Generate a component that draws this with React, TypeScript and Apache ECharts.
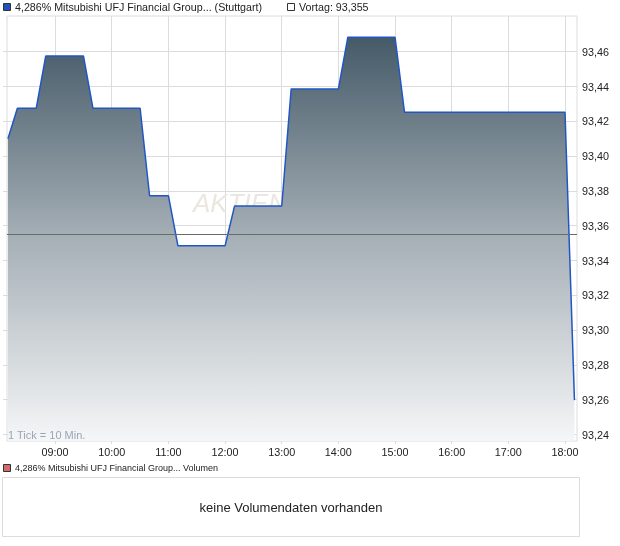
import React, { useEffect, useRef } from "react";
import * as echarts from "echarts";

const times = [
  "08:10", "08:20", "08:30", "08:40", "08:50", "09:00", "09:10", "09:20", "09:30",
  "09:40", "09:50", "10:00", "10:10", "10:20", "10:30",
  "10:40", "10:50", "11:00",
  "11:10", "11:20", "11:30", "11:40", "11:50", "12:00",
  "12:10", "12:20", "12:30", "12:40", "12:50", "13:00",
  "13:10", "13:20", "13:30", "13:40", "13:50", "14:00",
  "14:10", "14:20", "14:30", "14:40", "14:50", "15:00",
  "15:10", "15:20", "15:30", "15:40", "15:50", "16:00", "16:10", "16:20", "16:30",
  "16:40", "16:50", "17:00", "17:10", "17:20", "17:30", "17:40", "17:50", "18:00",
  "18:10",
];

const prices = [
  93.41, 93.4275, 93.4275, 93.4275, 93.4575, 93.4575, 93.4575, 93.4575, 93.4575,
  93.4275, 93.4275, 93.4275, 93.4275, 93.4275, 93.4275,
  93.3772, 93.3772, 93.3772,
  93.3485, 93.3485, 93.3485, 93.3485, 93.3485, 93.3485,
  93.3713, 93.3713, 93.3713, 93.3713, 93.3713, 93.3713,
  93.4386, 93.4386, 93.4386, 93.4386, 93.4386, 93.4386,
  93.4683, 93.4683, 93.4683, 93.4683, 93.4683, 93.4683,
  93.4252, 93.4252, 93.4252, 93.4252, 93.4252, 93.4252, 93.4252, 93.4252, 93.4252,
  93.4252, 93.4252, 93.4252, 93.4252, 93.4252, 93.4252, 93.4252, 93.4252, 93.4252,
  93.2598,
];

const hourLabels = ["09:00", "10:00", "11:00", "12:00", "13:00", "14:00", "15:00", "16:00", "17:00", "18:00"];
const previousClose = 93.355;
const previousCloseLabel = "Vortag: 93,355";
const seriesTitle = "4,286% Mitsubishi UFJ Financial Group... (Stuttgart)";
const volumeTitle = "4,286% Mitsubishi UFJ Financial Group... Volumen";
const noVolumeText = "keine Volumendaten vorhanden";
const tickNote = "1 Tick = 10 Min.";

const FONT = "'Liberation Sans', Arial, sans-serif";
const GRID_COLOR = "#dcdcdc";

const toMin = (t: string) => {
  const [h, m] = t.split(":").map(Number);
  return h * 60 + m;
};

export default function App() {
  const ref = useRef<HTMLDivElement>(null);

  useEffect(() => {
    if (!ref.current) return;
    const chart = echarts.init(ref.current, undefined, { renderer: "svg" });
    const data = times.map((t, i) => [toMin(t), prices[i]]);
    const firstHour = toMin(hourLabels[0]);
    const lastHour = toMin(hourLabels[hourLabels.length - 1]);

    chart.setOption({
      animation: false,
      textStyle: { fontFamily: FONT },
      grid: [
        { left: 7, top: 16, width: 570, height: 425, show: true, borderColor: GRID_COLOR, borderWidth: 1, backgroundColor: "transparent" },
        { left: 7, top: 51.7, width: 570, height: 382.8 },
        { left: 55, top: 16, width: 510, height: 425 },
      ],
      xAxis: [
        { gridIndex: 0, type: "value", min: 489, max: 1092.7, show: false },
        { gridIndex: 1, type: "value", min: 0, max: 1, show: false },
        {
          gridIndex: 2,
          type: "value",
          min: firstHour,
          max: lastHour,
          interval: 60,
          position: "bottom",
          axisLine: { show: false },
          axisTick: { show: true, length: 3, lineStyle: { color: GRID_COLOR } },
          axisLabel: {
            formatter: (v: number) => hourLabels[Math.round((v - firstHour) / 60)] ?? "",
            color: "#222",
            fontSize: 10.8,
            fontFamily: FONT,
            margin: 5,
          },
          splitLine: { show: true, lineStyle: { color: GRID_COLOR, width: 1 } },
        },
      ],
      yAxis: [
        { gridIndex: 0, type: "value", min: 93.2363, max: 93.4805, show: false },
        {
          gridIndex: 1,
          type: "value",
          min: 93.24,
          max: 93.46,
          interval: 0.02,
          position: "right",
          axisLine: { show: false },
          axisTick: { show: true, length: 3, lineStyle: { color: GRID_COLOR } },
          axisLabel: {
            formatter: (v: number) => v.toFixed(2).replace(".", ","),
            color: "#222",
            fontSize: 10.8,
            fontFamily: FONT,
            margin: 5,
          },
          splitLine: { show: true, lineStyle: { color: GRID_COLOR, width: 1 } },
        },
        {
          gridIndex: 1,
          type: "value",
          min: 93.24,
          max: 93.46,
          interval: 0.02,
          position: "left",
          axisLine: { show: false },
          axisTick: { show: true, length: 4, lineStyle: { color: GRID_COLOR } },
          axisLabel: { show: false },
          splitLine: { show: false },
        },
        { gridIndex: 2, type: "value", min: 0, max: 1, show: false },
      ],
      graphic: {
        elements: [
          {
            type: "text",
            z: 1,
            left: 193,
            top: 190,
            style: { text: "AKTIEN", fill: "#ebe6df", font: `italic 26px ${FONT}` },
          },
          {
            type: "text",
            z: 10,
            left: 8,
            top: 429,
            style: { text: tickNote, fill: "#9aa6b8", font: `11px ${FONT}` },
          },
          { type: "rect", z: 10, shape: { x: 3.5, y: 3.5, width: 7, height: 7 }, style: { fill: "#1f52b8", stroke: "#333", lineWidth: 1 } },
          { type: "text", z: 10, left: 15, top: 1, style: { text: seriesTitle, fill: "#222", font: `10.7px ${FONT}` } },
          { type: "rect", z: 10, shape: { x: 287.5, y: 3.5, width: 7, height: 7 }, style: { fill: "#fff", stroke: "#333", lineWidth: 1 } },
          { type: "text", z: 10, left: 299, top: 1, style: { text: previousCloseLabel, fill: "#222", font: `10.7px ${FONT}` } },
          { type: "rect", z: 10, shape: { x: 3.5, y: 464.5, width: 7, height: 7 }, style: { fill: "#d46a6a", stroke: "#333", lineWidth: 1 } },
          { type: "text", z: 10, left: 15, top: 463, style: { text: volumeTitle, fill: "#222", font: `9px ${FONT}` } },
          { type: "rect", z: 5, shape: { x: 2.5, y: 477.5, width: 577, height: 59 }, style: { fill: "#fff", stroke: GRID_COLOR, lineWidth: 1 } },
          {
            type: "text",
            z: 10,
            x: 291,
            y: 507,
            style: { text: noVolumeText, fill: "#222", font: `13px ${FONT}`, align: "center", verticalAlign: "middle" },
          },
        ],
      },
      series: [
        {
          type: "line",
          xAxisIndex: 0,
          yAxisIndex: 0,
          data,
          symbol: "none",
          z: 3,
          lineStyle: { color: "#2157c4", width: 1.5 },
          areaStyle: {
            opacity: 1,
            color: new echarts.graphic.LinearGradient(0, 0, 0, 1, [
              { offset: 0, color: "#455a68" },
              { offset: 0.5, color: "#a6b0b7" },
              { offset: 1, color: "#f5f6f7" },
            ]),
          },
          markLine: {
            silent: true,
            precision: 3,
            symbol: ["none", "none"],
            label: { show: false },
            lineStyle: { color: "#6a6a6a", width: 1, type: "solid" },
            data: [{ yAxis: previousClose }],
          },
        },
      ],
    });

    return () => chart.dispose();
  }, []);

  return <div ref={ref} style={{ position: "fixed", left: 0, top: 0, width: 620, height: 546 }} />;
}
